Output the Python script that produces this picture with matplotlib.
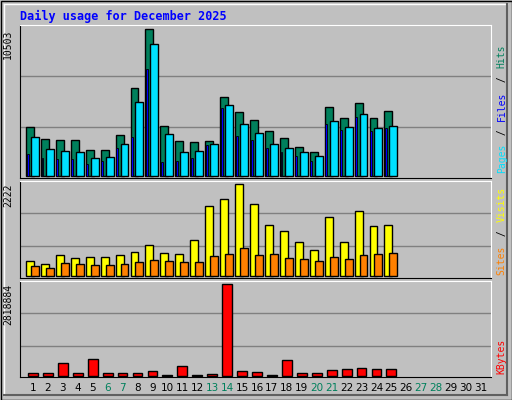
import matplotlib
matplotlib.use("Agg")
import matplotlib.pyplot as plt
from matplotlib.patches import Rectangle

W, H = 512, 400
days = list(range(1, 32))
n = 25  # days with data
hits = [3500, 2640, 2570, 2570, 1860, 1860, 2930, 6280, 10503, 3570, 2500, 2430, 2500,
        5640, 4570, 4000, 3210, 2710, 2070, 1710, 4930, 4140, 5210, 4140, 4640]
files = [2790, 1930, 1790, 1710, 1290, 1360, 2290, 5280, 9430, 3000, 1710, 1790, 2290,
         5070, 3710, 3070, 2290, 2000, 1710, 1430, 3930, 3500, 4430, 3430, 3570]
pages = [1570, 1290, 1210, 1210, 860, 1070, 2000, 2790, 7640, 1000, 1070, 1290, 2210,
         4860, 2860, 2570, 2000, 1700, 1400, 1100, 3700, 3300, 4200, 3200, 3400]
visits = [360, 290, 510, 435, 460, 460, 510, 580, 750, 555, 530, 870, 1690,
          1860, 2222, 1740, 1230, 1090, 820, 630, 1420, 820, 1570, 1210, 1230]
sites = [240, 190, 310, 290, 265, 265, 290, 340, 385, 360, 340, 340, 480,
         530, 680, 510, 530, 435, 410, 360, 460, 410, 510, 530, 555]
kbytes = [92000, 92000, 400000, 92000, 520000, 92000, 92000, 92000, 150000, 30000,
          300000, 30000, 60000, 2818884, 150000, 120000, 30000, 490000, 92000, 92000,
          184000, 214000, 245000, 214000, 214000]
weekend = [6, 7, 13, 14, 20, 21, 27, 28]

GRAY = "#C0C0C0"
GREEN = "#00805C"
MONO = "DejaVu Sans Mono"

fig = plt.figure(figsize=(W / 100, H / 100), dpi=100, facecolor=GRAY)

# outer frame with bevel
fa = fig.add_axes([0, 0, 1, 1])
fa.set_xlim(0, W)
fa.set_ylim(H, 0)
fa.axis("off")
fa.add_patch(Rectangle((0.5, 0.5), W - 1, H - 1, fill=False, ec="black", lw=1))
fa.plot([4, W - 5], [4, 4], color="white", lw=1)
fa.plot([4, 4], [4, H - 5], color="white", lw=1)
fa.plot([W - 5, W - 5], [4, H - 5], color="#606060", lw=1.5)
fa.plot([4, W - 5], [H - 5, H - 5], color="#606060", lw=1.5)
fa.text(20, 16, "Daily usage for December 2025", color="#0000FF", family=MONO,
        fontweight="bold", fontsize=8.5, va="center")


def panel(top, bottom, ylo, yhi, grid):
    ax = fig.add_axes([20 / W, 1 - bottom / H, (491 - 20) / W, (bottom - top) / H])
    ax.set_facecolor(GRAY)
    ax.set_xlim(1 - 13 / 15, 31 + 10 / 15)
    ax.set_ylim(ylo, yhi)
    ax.set_xticks([])
    ax.set_yticks(grid)
    ax.tick_params(left=False, labelleft=False)
    ax.yaxis.grid(True, color="#808080", lw=1)
    ax.set_axisbelow(True)
    for s in ax.spines.values():
        s.set_color("black")
    ax.spines["top"].set_color("white")
    ax.spines["right"].set_color("white")
    return ax


x = days[:n]
bk = dict(edgecolor="black", linewidth=1)

ax1 = panel(25, 178, -143, 10789, [3500, 7145])
ax1.bar([d - 0.2 for d in x], hits, width=0.53, color=GREEN, **bk)
ax1.bar([d - 0.36 for d in x], pages, width=0.13, color="#0000FF", edgecolor="black", linewidth=0.6)
ax1.bar([d + 0.13 for d in x], files, width=0.53, color="#00E0FF", **bk)

ax2 = panel(181, 278, -48, 2294, [724, 1521])
ax2.bar([d - 0.2 for d in x], visits, width=0.53, color="#FFFF00", **bk)
ax2.bar([d + 0.13 for d in x], sites, width=0.53, color="#FF8000", **bk)

ax3 = panel(281, 377, -30640, 2910800, [919000, 1930000])
ax3.bar(x, kbytes, width=0.66, color="#FF0000", **bk)

for ax, lab in [(ax1, "10503"), (ax2, "2222"), (ax3, "2818884")]:
    ax.text(-0.015, 0.97, lab, transform=ax.transAxes, rotation=90, ha="right",
            va="top", fontsize=7, family=MONO)

# right side legends
def side(ax, parts):
    y = 0.03
    for txt, col in parts:
        t = ax.text(1.012, y, txt, transform=ax.transAxes, rotation=90, ha="left",
                    va="bottom", fontsize=7, family=MONO, color=col)
        y += len(txt) * 0.043 * (153 / (ax.get_position().height * H))

side(ax1, [("Pages", "#00E0FF"), (" / ", "black"), ("Files", "#0000FF"), (" / ", "black"), ("Hits", GREEN)])
side(ax2, [("Sites", "#FF8000"), (" / ", "black"), ("Visits", "#FFFF00")])
side(ax3, [("KBytes", "#FF0000")])

for d in days:
    fa.text(33 + (d - 1) * 14.93, 388, str(d), ha="center", va="center", fontsize=7.5,
            color=GREEN if d in weekend else "black")

fig.savefig("out.png", dpi=100, facecolor=GRAY)
